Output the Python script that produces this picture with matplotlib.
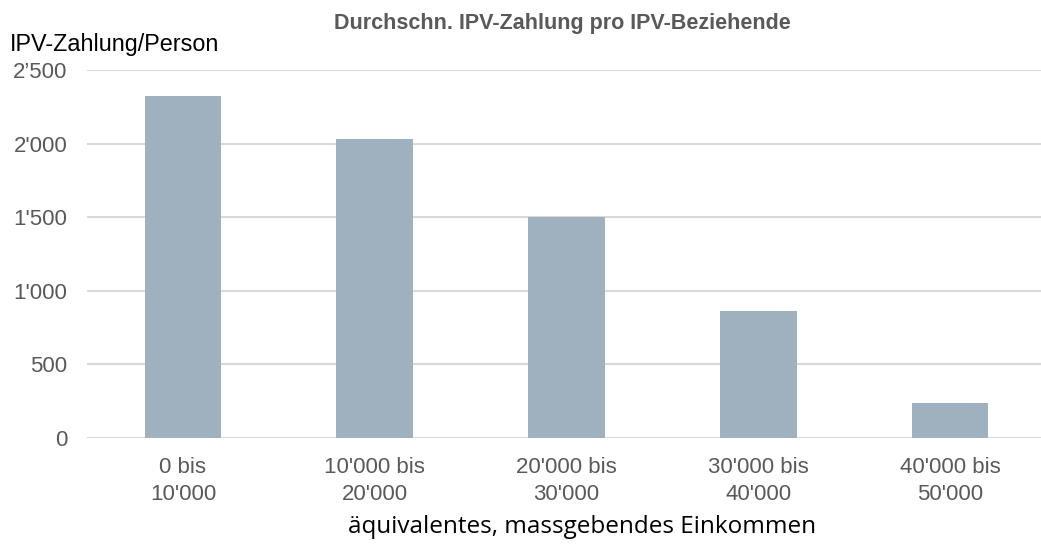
import matplotlib.pyplot as plt

plt.rcParams['font.family'] = ['Liberation Sans', 'DejaVu Sans']

kategorien = ["0 bis\n10'000", "10'000 bis\n20'000", "20'000 bis\n30'000",
              "30'000 bis\n40'000", "40'000 bis\n50'000"]
zahlung = [2323, 2030, 1500, 865, 235]
yticks = [0, 500, 1000, 1500, 2000, 2500]
ytick_labels = ["0", "500", "1'000", "1'500", "2'000", "2\u2019500"]

fig = plt.figure(figsize=(10.41, 5.45), dpi=100)
ax = fig.add_axes([87 / 1041, 1 - 438 / 545, 959 / 1041, (438 - 70) / 545])

x = range(len(kategorien))
ax.bar(x, zahlung, width=0.4, color="#9fb1bf", zorder=3)

ax.set_xlim(-0.5, 4.5)
ax.set_ylim(0, 2500)
ax.set_yticks(yticks)
ax.set_yticklabels(ytick_labels)
ax.set_xticks(list(x))
ax.set_xticklabels(kategorien, linespacing=1.34)
ax.tick_params(axis="both", length=0, labelsize=16, colors="#595959")
ax.tick_params(axis="x", pad=14)
ax.tick_params(axis="y", pad=14)
ax.grid(axis="y", color="#d9d9d9", linewidth=1.5, zorder=0)
for s in ax.spines.values():
    s.set_visible(False)

fig.text(562 / 1041, 1 - 23 / 545, "Durchschn. IPV-Zahlung pro IPV-Beziehende",
         ha="center", va="center", fontsize=15.5, fontweight="bold", color="#595959")
fig.text(10 / 1041, 1 - 45 / 545, "IPV-Zahlung/Person", ha="left", va="center",
         fontsize=16.8, color="black")
fig.text(582 / 1041, 1 - 527 / 545, "äquivalentes, massgebendes Einkommen",
         ha="center", va="center", fontsize=17.5, color="black",
         family=["Open Sans", "DejaVu Sans"])

fig.savefig("out.png", dpi=100)
